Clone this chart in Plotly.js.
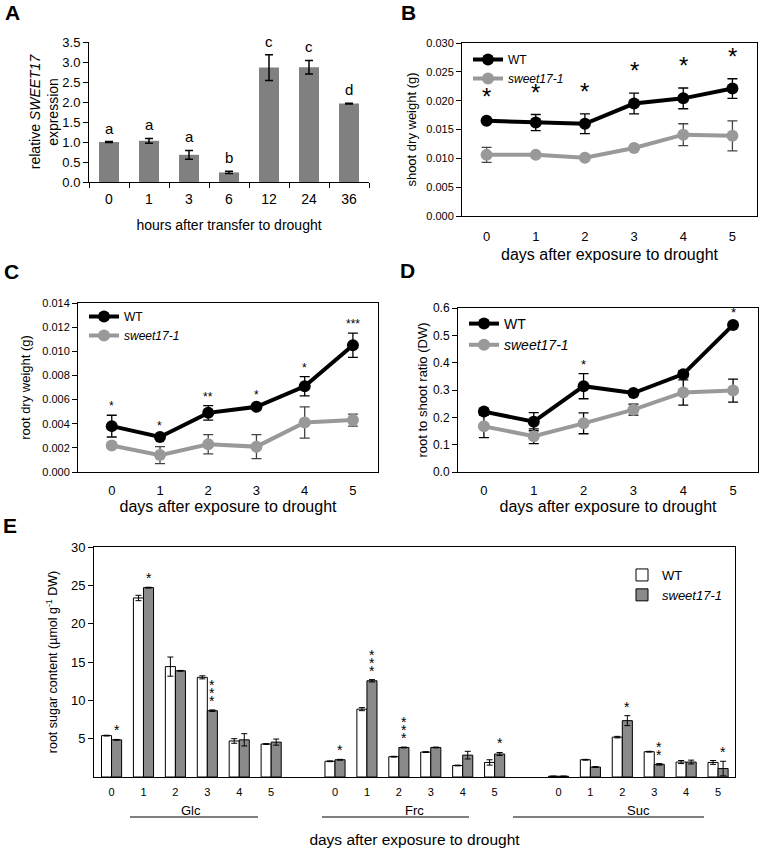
<!DOCTYPE html>
<html><head><meta charset="utf-8">
<script src="https://cdn.plot.ly/plotly-3.0.1.min.js"></script>
<style>body{margin:0;background:#fff}#chart{width:760px;height:848px}</style>
</head><body><div id="chart"></div>
<script>
// ---------- Panel A : relative SWEET17 expression ----------
const hoursLabels = ['0', '1', '3', '6', '12', '24', '36'];
const exprMean = [1.00, 1.03, 0.68, 0.24, 2.86, 2.87, 1.96];
const exprErr = [0.01, 0.06, 0.11, 0.03, 0.32, 0.17, 0.01];
const exprLetters = ['a', 'a', 'a', 'b', 'c', 'c', 'd'];

// ---------- Panels B-D : days after exposure ----------
const days = [0, 1, 2, 3, 4, 5];
const shootWT = [0.0165, 0.0162, 0.0160, 0.0195, 0.0204, 0.0221];
const shootWTErr = [0.0003, 0.0014, 0.0017, 0.0018, 0.0018, 0.0017];
const shootMut = [0.0106, 0.0106, 0.0101, 0.0118, 0.0141, 0.0139];
const shootMutErr = [0.0013, 0.0003, 0.0002, 0.0003, 0.0019, 0.0026];
const shootSig = ['*', '*', '*', '*', '*', '*'];

const rootWT = [0.0038, 0.0029, 0.0049, 0.0054, 0.0071, 0.0105];
const rootWTErr = [0.0009, 0.0002, 0.0006, 0.0002, 0.0008, 0.0010];
const rootMut = [0.0022, 0.0014, 0.0023, 0.0021, 0.0041, 0.0043];
const rootMutErr = [0.0002, 0.0007, 0.0008, 0.0010, 0.0013, 0.0005];
const rootSig = ['*', '*', '**', '*', '*', '***'];

const ratioWT = [0.221, 0.184, 0.314, 0.289, 0.358, 0.538];
const ratioWTErr = [0.010, 0.033, 0.046, 0.008, 0.012, 0.010];
const ratioMut = [0.167, 0.131, 0.178, 0.228, 0.291, 0.298];
const ratioMutErr = [0.041, 0.027, 0.038, 0.020, 0.046, 0.042];
const ratioSig = ['', '', '*', '', '', '*'];

// ---------- Panel E : root sugar content ----------
const sugars = ['Glc', 'Frc', 'Suc'];
const glcWT = [5.40, 23.35, 14.40, 13.00, 4.70, 4.30];
const glcWTErr = [0.05, 0.35, 1.25, 0.20, 0.30, 0.05];
const glcMut = [4.85, 24.70, 13.85, 8.65, 4.85, 4.55];
const glcMutErr = [0.05, 0.05, 0.05, 0.10, 0.80, 0.40];
const frcWT = [2.05, 8.85, 2.65, 3.25, 1.50, 1.90];
const frcWTErr = [0.05, 0.20, 0.05, 0.05, 0.05, 0.35];
const frcMut = [2.25, 12.55, 3.85, 3.85, 2.85, 3.00];
const frcMutErr = [0.05, 0.15, 0.05, 0.05, 0.50, 0.20];
const sucWT = [0.10, 2.25, 5.20, 3.30, 1.95, 1.90];
const sucWTErr = [0.02, 0.05, 0.10, 0.05, 0.20, 0.25];
const sucMut = [0.10, 1.30, 7.35, 1.65, 1.95, 1.10];
const sucMutErr = [0.02, 0.05, 0.65, 0.10, 0.25, 0.95];
const glcSig = ['*', '*', '', '***', '', ''];
const frcSig = ['*', '***', '***', '', '', '*'];
const sucSig = ['', '', '*', '**', '', '*'];

// ---------- helpers ----------
const W = 760, H = 848;
const FONT = 'Liberation Sans, Arial, sans-serif';
const MUT_COLOR = '#999999';
const px = v => v / W;
const py = v => 1 - v / H;

const traces = [];
const annotations = [];

// Panel A
traces.push({
  type: 'bar', x: hoursLabels, y: exprMean, width: 0.5,
  marker: {color: '#808080'}, showlegend: false,
  error_y: {type: 'data', array: exprErr, color: '#000', thickness: 1.5, width: 4},
  xaxis: 'x', yaxis: 'y'
});
exprLetters.forEach((t, i) => annotations.push({
  xref: 'x', yref: 'y', x: i, y: exprMean[i] + exprErr[i],
  text: t, showarrow: false, yanchor: 'bottom', yshift: 3, font: {size: 15, color: '#000'}
}));

function linePanel(ax, legendId, wt, wtErr, mut, mutErr, sig, starSize, starShift, mutErrColor) {
  traces.push({
    type: 'scatter', mode: 'lines+markers', name: 'WT', x: days, y: wt,
    line: {color: '#000', width: 4}, marker: {color: '#000', size: 12},
    error_y: {type: 'data', array: wtErr, color: '#000', thickness: 1.3, width: 5},
    xaxis: 'x' + ax, yaxis: 'y' + ax, legend: legendId
  });
  traces.push({
    type: 'scatter', mode: 'lines+markers', name: '<i>sweet17-1</i>', x: days, y: mut,
    line: {color: MUT_COLOR, width: 4}, marker: {color: MUT_COLOR, size: 12},
    error_y: {type: 'data', array: mutErr, color: mutErrColor, thickness: 1.3, width: 5},
    xaxis: 'x' + ax, yaxis: 'y' + ax, legend: legendId
  });
  sig.forEach((s, i) => {
    if (!s) return;
    annotations.push({
      xref: 'x' + ax, yref: 'y' + ax, x: days[i], y: wt[i] + wtErr[i],
      text: s, showarrow: false, yanchor: 'bottom', yshift: starShift,
      font: {size: starSize, color: '#000'}
    });
  });
}
linePanel(2, 'legend', shootWT, shootWTErr, shootMut, shootMutErr, shootSig, 24, 7, '#444');
linePanel(3, 'legend2', rootWT, rootWTErr, rootMut, rootMutErr, rootSig, 12, 0, '#444');
linePanel(4, 'legend3', ratioWT, ratioWTErr, ratioMut, ratioMutErr, ratioSig, 13, 0, '#000');

// Panel E
const eX = [], eTickText = [];
sugars.forEach((s, si) => days.forEach(d => { eX.push(si * 7 + d); eTickText.push(String(d)); }));
const eWT = glcWT.concat(frcWT, sucWT);
const eWTErr = glcWTErr.concat(frcWTErr, sucWTErr);
const eMut = glcMut.concat(frcMut, sucMut);
const eMutErr = glcMutErr.concat(frcMutErr, sucMutErr);
const eSig = glcSig.concat(frcSig, sucSig);
const E_BARGAP = 0.37;
traces.push({
  type: 'bar', name: 'WT', x: eX, y: eWT,
  marker: {color: '#ffffff', line: {color: '#000', width: 1}},
  error_y: {type: 'data', array: eWTErr, color: '#000', thickness: 1, width: 3},
  xaxis: 'x5', yaxis: 'y5', legend: 'legend4'
});
traces.push({
  type: 'bar', name: '<i>sweet17-1</i>', x: eX, y: eMut,
  marker: {color: '#8a8a8a', line: {color: '#000', width: 1}},
  error_y: {type: 'data', array: eMutErr, color: '#000', thickness: 1, width: 3},
  xaxis: 'x5', yaxis: 'y5', legend: 'legend4'
});
eSig.forEach((s, i) => {
  for (let k = 0; k < s.length; k++) {
    annotations.push({
      xref: 'x5', yref: 'y5', x: eX[i] + (1 - E_BARGAP) / 4, y: eMut[i] + eMutErr[i],
      text: '*', showarrow: false, yanchor: 'bottom', yshift: -1 + 8 * k,
      font: {size: 14, color: '#000'}
    });
  }
});
sugars.forEach((s, si) => annotations.push({
  xref: 'x5', yref: 'paper', x: si * 7 + 2.5, y: py(810), text: s, showarrow: false,
  yanchor: 'middle', font: {size: 13, color: '#000'}
}));

// panel letters
[['A', 12, 12], ['B', 409, 12], ['C', 11, 271], ['D', 407, 270], ['E', 10, 525]].forEach(([t, x, y]) =>
  annotations.push({xref: 'paper', yref: 'paper', x: px(x), y: py(y), text: '<b>' + t + '</b>',
    showarrow: false, xanchor: 'center', yanchor: 'middle', font: {size: 21, color: '#000'}}));

const groupLines = [[130, 258], [322, 469], [513, 704]].map(([a, b]) => ({
  type: 'line', xref: 'paper', yref: 'paper', x0: px(a), x1: px(b), y0: py(817), y1: py(817),
  line: {color: '#000', width: 1}
}));

const baseAxis = {
  showline: true, linecolor: '#000', linewidth: 1, showgrid: false, zeroline: false,
  ticks: 'outside', ticklen: 5, tickcolor: '#000', tickwidth: 1, automargin: false,
  tickfont: {size: 12, color: '#000'}
};
const boxX = Object.assign({}, baseAxis, {ticks: '', mirror: true, tickvals: days, tickfont: {size: 13, color: '#000'},
  ticklabelstandoff: 6});
const boxY = Object.assign({}, baseAxis, {mirror: true});

const layout = {
  width: W, height: H, margin: {l: 0, r: 0, t: 0, b: 0},
  paper_bgcolor: '#fff', plot_bgcolor: '#fff',
  font: {family: FONT, color: '#000'},
  barmode: 'group', bargap: E_BARGAP, bargroupgap: 0,
  xaxis: Object.assign({}, baseAxis, {
    domain: [px(89), px(369)], anchor: 'y', type: 'category', range: [-0.5, 6.5], tickson: 'boundaries',
    tickfont: {size: 14, color: '#000'}, ticklabelstandoff: 4,
    title: {text: 'hours after transfer to drought', font: {size: 14}, standoff: 14}
  }),
  yaxis: Object.assign({}, baseAxis, {
    domain: [py(182), py(42)], anchor: 'x', range: [0, 3.5], dtick: 0.5, tickformat: '.1f',
    tickfont: {size: 13, color: '#000'},
    title: {text: 'relative <i>SWEET17</i><br>expression', font: {size: 14}, standoff: 0}
  }),
  xaxis2: Object.assign({}, boxX, {
    domain: [px(462), px(757)], anchor: 'y2', range: [-0.5, 5.5], ticklabelstandoff: 8,
    title: {text: 'days after exposure to drought', font: {size: 16}, standoff: 6}
  }),
  yaxis2: Object.assign({}, boxY, {
    domain: [py(216), py(43)], anchor: 'x2', range: [0, 0.03], dtick: 0.005, tickformat: '.3f',
    tickfont: {size: 11, color: '#000'},
    title: {text: 'shoot dry weight (g)', font: {size: 13}, standoff: 6}
  }),
  xaxis3: Object.assign({}, boxX, {
    domain: [px(78), px(378)], anchor: 'y3', range: [-0.7, 5.52],
    title: {text: 'days after exposure to drought', font: {size: 16}, standoff: 1}
  }),
  yaxis3: Object.assign({}, boxY, {
    domain: [py(472), py(303)], anchor: 'x3', range: [0, 0.014], dtick: 0.002, tickformat: '.3f',
    tickfont: {size: 11, color: '#000'},
    title: {text: 'root dry weight (g)', font: {size: 13}, standoff: 8}
  }),
  xaxis4: Object.assign({}, boxX, {
    domain: [px(458), px(758)], anchor: 'y4', range: [-0.52, 5.5],
    title: {text: 'days after exposure to drought', font: {size: 16}, standoff: 1}
  }),
  yaxis4: Object.assign({}, boxY, {
    domain: [py(472), py(308)], anchor: 'x4', range: [0, 0.6], dtick: 0.1, tickformat: '.1f',
    tickfont: {size: 12, color: '#000'},
    title: {text: 'root to shoot ratio (DW)', font: {size: 13}, standoff: 2}
  }),
  xaxis5: Object.assign({}, baseAxis, {
    domain: [px(94), px(735)], anchor: 'y5', range: [-0.55, 19.53], mirror: true, ticks: '',
    tickvals: eX, ticktext: eTickText, tickfont: {size: 11, color: '#000'}, ticklabelstandoff: 5,
    title: {text: 'days after exposure to drought', font: {size: 15.5}, standoff: 39}
  }),
  yaxis5: Object.assign({}, baseAxis, {
    domain: [py(777), py(547)], anchor: 'x5', range: [0, 30], tickvals: [5, 10, 15, 20, 25, 30],
    mirror: true, tickfont: {size: 13, color: '#000'},
    title: {text: 'root sugar content (µmol g<sup>-1</sup> DW)', font: {size: 12.5}, standoff: 10}
  }),
  legend: {x: px(468), y: py(45), xanchor: 'left', yanchor: 'top', bgcolor: 'rgba(0,0,0,0)',
    font: {size: 12, color: '#000'}},
  legend2: {x: px(84), y: py(302), xanchor: 'left', yanchor: 'top', bgcolor: 'rgba(0,0,0,0)',
    font: {size: 12, color: '#000'}},
  legend3: {x: px(464), y: py(308), xanchor: 'left', yanchor: 'top', bgcolor: 'rgba(0,0,0,0)',
    font: {size: 14, color: '#000'}},
  legend4: {x: px(622), y: py(560), xanchor: 'left', yanchor: 'top', bgcolor: 'rgba(0,0,0,0)',
    font: {size: 13, color: '#000'}},
  annotations: annotations,
  shapes: groupLines
};

Plotly.newPlot('chart', traces, layout, {staticPlot: true, displayModeBar: false});
</script>
</body></html>
